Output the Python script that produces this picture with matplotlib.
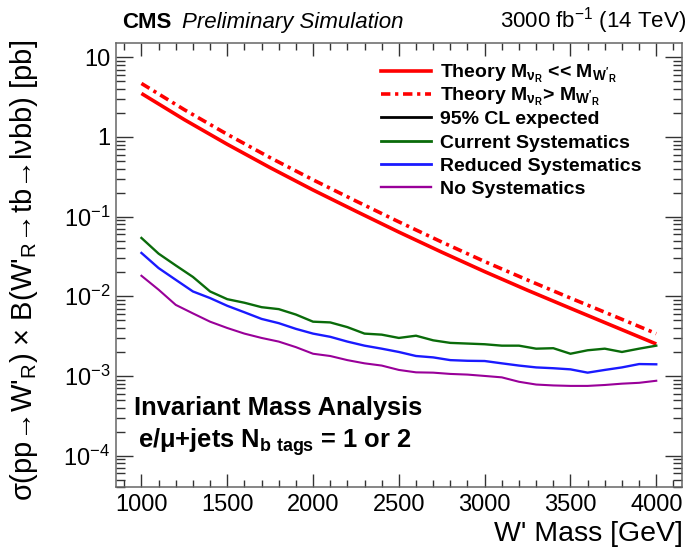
import numpy as np
import matplotlib
matplotlib.use("Agg")
import matplotlib.pyplot as plt
from matplotlib.lines import Line2D
from matplotlib.ticker import FixedLocator, MultipleLocator, NullFormatter, FuncFormatter

plt.rcParams['font.family'] = ['Liberation Sans', 'DejaVu Sans']
plt.rcParams['mathtext.default'] = 'regular'

# ---------------- data ----------------
mass_theory = [1000, 1250, 1500, 1750, 2000, 2250, 2500, 2750, 3000, 3250, 3500, 3750, 4000]
theory_light = [3.52, 1.65, 0.81, 0.412, 0.216, 0.117, 0.064, 0.0358, 0.0204, 0.0119, 0.00707, 0.00422, 0.00252]
theory_heavy = [4.7, 2.2, 1.08, 0.55, 0.29, 0.157, 0.086, 0.048, 0.0273, 0.016, 0.0095, 0.0057, 0.0034]

mass_limit = [1000, 1100, 1200, 1300, 1400, 1500, 1600, 1700, 1800, 1900, 2000,
              2100, 2200, 2300, 2400, 2500, 2600, 2700, 2800, 2900, 3000,
              3100, 3200, 3300, 3400, 3500, 3600, 3700, 3800, 3900, 4000]
current_syst = [0.054, 0.0343, 0.0244, 0.0175, 0.0115, 0.0092, 0.0083, 0.0073, 0.0069, 0.0059, 0.0048,
                0.0047, 0.0041, 0.0034, 0.0033, 0.0030, 0.0032, 0.0028, 0.0026, 0.00255, 0.0025,
                0.0024, 0.0024, 0.0022, 0.00223, 0.0019, 0.0021, 0.0022, 0.0020, 0.0022, 0.0024]
reduced_syst = [0.035, 0.0226, 0.0161, 0.0115, 0.0095, 0.0076, 0.0063, 0.0052, 0.0046, 0.0039, 0.0034,
                0.0031, 0.0027, 0.0024, 0.0022, 0.0020, 0.00178, 0.00171, 0.00158, 0.00155, 0.00154,
                0.00144, 0.00135, 0.00128, 0.00125, 0.00121, 0.0011, 0.00119, 0.00128, 0.00141, 0.0014]
no_syst = [0.0181, 0.0121, 0.0078, 0.0061, 0.0048, 0.0040, 0.0034, 0.0030, 0.0027, 0.0023, 0.0019,
           0.00178, 0.00158, 0.00144, 0.00135, 0.00119, 0.00111, 0.0011, 0.00106, 0.00104, 0.0010,
           0.00096, 0.000845, 0.00078, 0.00076, 0.00075, 0.00075, 0.00077, 0.0008, 0.00082, 0.00087]

legend_labels = [r"Theory M$_{\nu_{R}}$ << M$_{W'_{R}}$",
                 r"Theory M$_{\nu_{R}}$> M$_{W'_{R}}$",
                 "95% CL expected",
                 "Current Systematics",
                 "Reduced Systematics",
                 "No Systematics"]

# ---------------- figure ----------------
W, H = 698, 547
fig = plt.figure(figsize=(W / 100, H / 100), dpi=100)
L, R, T, B = 115.7, 682, 43.3, 487.3
ax = fig.add_axes([L / W, 1 - B / H, (R - L) / W, (B - T) / H])

def fx(x):
    return x / W

def fy(y):
    return 1 - y / H

red = '#ff0000'
green = '#0a6b0a'
blue = '#1a1aff'
purple = '#990099'
dashdot = (0, (2.6, 1.3, 0.9, 1.3))

ax.plot(mass_theory, theory_light, color=red, lw=2.6, solid_capstyle='butt')
ax.plot(mass_theory, theory_heavy, color=red, lw=2.6, linestyle=dashdot)
ax.plot(mass_limit, current_syst, color=green, lw=1.7)
ax.plot(mass_limit, reduced_syst, color=blue, lw=1.7)
ax.plot(mass_limit, no_syst, color=purple, lw=1.5)

ax.set_yscale('log')
ax.set_xlim(850, 4150)
ax.set_ylim(4.0e-5, 15.0)

ax.xaxis.set_major_locator(MultipleLocator(500))
ax.xaxis.set_minor_locator(MultipleLocator(100))
ax.yaxis.set_major_locator(FixedLocator([1e-4, 1e-3, 1e-2, 1e-1, 1, 10]))
minors = [m * 10.0 ** e for e in range(-5, 2) for m in range(2, 10)]
ax.yaxis.set_minor_locator(FixedLocator(minors))
ax.yaxis.set_minor_formatter(NullFormatter())

def yfmt(v, pos):
    e = int(round(np.log10(v)))
    if e == 0:
        return "1"
    if e == 1:
        return "10"
    return r"$10^{%d}$" % e

ax.yaxis.set_major_formatter(FuncFormatter(yfmt))
ax.xaxis.set_major_formatter(FuncFormatter(lambda v, p: "%d" % v))

ax.tick_params(axis='both', which='both', direction='in', top=True, right=True,
               color='#333333', width=1.0)
ax.tick_params(axis='y', which='major', length=12.5, labelsize=17, pad=4)
ax.tick_params(axis='y', which='minor', length=6.3)
ax.tick_params(axis='x', which='major', length=9.5, labelsize=17, pad=5)
ax.tick_params(axis='x', which='minor', length=5.0)
for s in ax.spines.values():
    s.set_color('#666666')
    s.set_linewidth(1.1)

# axis titles
fig.text(fx(683), fy(541), "W' Mass [GeV]", ha='right', va='baseline', fontsize=20.5)
fig.text(fx(24), fy(40), r"σ(pp→W'$_{R}$) × B(W'$_{R}$→tb→lνbb) [pb]",
         rotation=90, ha='center', va='top', fontsize=21)

# header
fig.text(fx(122), fy(28), "CMS", fontweight='bold', fontsize=16, va='baseline')
fig.text(fx(182), fy(28), "Preliminary Simulation", fontstyle='italic', fontsize=16, va='baseline')
fig.text(fx(686), fy(28), r"3000 fb$^{-1}$ (14 TeV)", ha='right', fontsize=16, va='baseline')

# annotations
fig.text(fx(134), fy(415), "Invariant Mass Analysis", fontweight='bold', fontsize=18.4, va='baseline')
fig.text(fx(138), fy(448), r"e/μ+jets N$_{b\ tags}$ = 1 or 2", fontweight='bold', fontsize=18.4, va='baseline')

# legend (manual)
styles = [dict(color=red, lw=2.6, linestyle='-'),
          dict(color=red, lw=2.6, linestyle=dashdot),
          dict(color='black', lw=2.0, linestyle='-'),
          dict(color=green, lw=2.0, linestyle='-'),
          dict(color=blue, lw=2.0, linestyle='-'),
          dict(color=purple, lw=1.7, linestyle='-')]
for i, (lab, st) in enumerate(zip(legend_labels, styles)):
    yc = 70.7 + 23.3 * i
    fig.add_artist(Line2D([fx(381), fx(431)], [fy(yc), fy(yc)], transform=fig.transFigure, **st))
    fig.text(fx(440.5), fy(yc + 7), lab, fontweight='bold', fontsize=14, va='baseline')

fig.savefig("out.png", dpi=100)
